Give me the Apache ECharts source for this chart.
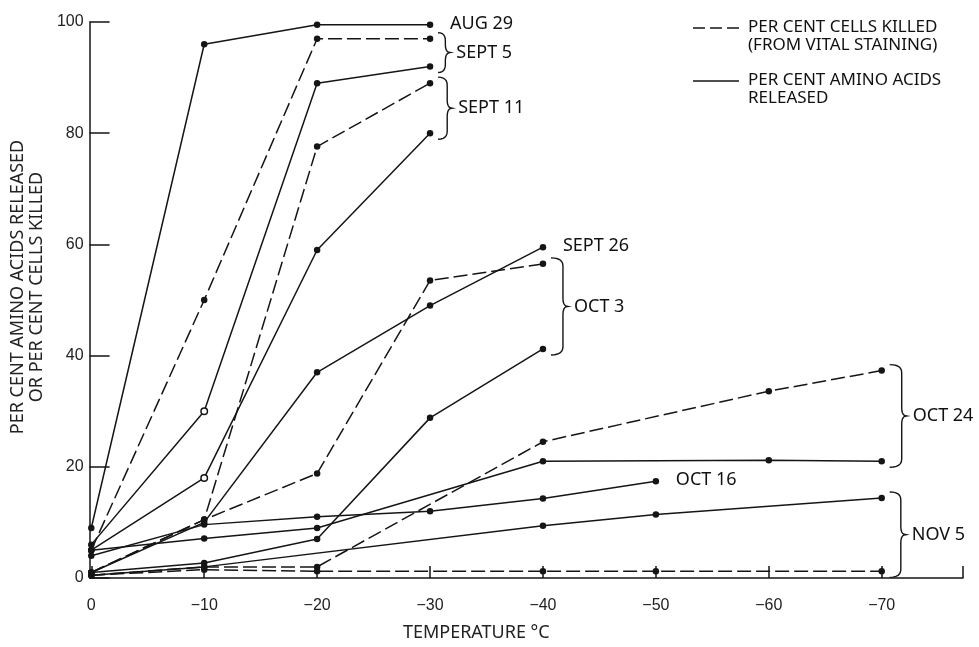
<!DOCTYPE html>
<html>
<head>
<meta charset="utf-8">
<script src="https://cdn.jsdelivr.net/npm/echarts@6/dist/echarts.min.js"></script>
<style>html,body{margin:0;padding:0;background:#fff}#main{width:979px;height:647px}</style>
</head>
<body>
<div id="main"></div>
<script>
// ---- data (temperature °C, per cent) ----
const xTickValues = [0, -10, -20, -30, -40, -50, -60, -70];
const yTickValues = [0, 20, 40, 60, 80, 100];

const aug29Amino   = [[0, 9], [-10, 96], [-20, 99.5], [-30, 99.5]];
const sept5Killed  = [[0, 5], [-10, 50], [-20, 97], [-30, 97]];
const sept5Amino   = [[0, 6], [-10, 30], [-20, 89], [-30, 92]];
const sept11Killed = [[0, 1], [-10, 10.5], [-20, 77.6], [-30, 89]];
const sept11Amino  = [[0, 5], [-10, 18], [-20, 59], [-30, 80]];
const sept26Amino  = [[0, 1], [-10, 10], [-20, 37], [-30, 49], [-40, 59.5]];
const oct3Killed   = [[0, 1], [-10, 10.5], [-20, 18.8], [-30, 53.5], [-40, 56.5]];
const oct3Amino    = [[0, 1], [-10, 2.7], [-20, 7], [-30, 28.8], [-40, 41.2]];
const oct16Amino   = [[0, 4], [-10, 9.6], [-20, 11], [-30, 12], [-40, 14.3], [-50, 17.4]];
const oct24Killed  = [[0, 0.5], [-10, 2], [-20, 2], [-40, 24.5], [-60, 33.6], [-70, 37.3]];
const oct24Amino   = [[0, 5], [-10, 7.1], [-20, 9], [-40, 21], [-60, 21.2], [-70, 21]];
const nov5Killed   = [[0, 0.5], [-10, 1.5], [-20, 1.2], [-40, 1.2], [-50, 1.2], [-70, 1.2]];
const nov5Amino    = [[0, 0.5], [-10, 2], [-40, 9.4], [-50, 11.4], [-70, 14.4]];

// annotation anchors (data coordinates)
const plainLabels = [
  { text: 'AUG 29', x: -30, y: 99.5 },
  { text: 'SEPT 26', x: -40, y: 59.5 },
  { text: 'OCT 16', x: -50, y: 17.4 }
];
const braceLabels = [
  { text: 'SEPT 5', x: -30, top: 97, bottom: 92 },
  { text: 'SEPT 11', x: -30, top: 89, bottom: 80 },
  { text: 'OCT 3', x: -40, top: 56.5, bottom: 41.2 },
  { text: 'OCT 24', x: -70, top: 37.3, bottom: 21 },
  { text: 'NOV 5', x: -70, top: 14.4, bottom: 1.2 }
];
const legendTexts = [
  'PER CENT CELLS KILLED\n(FROM VITAL STAINING)',
  'PER CENT AMINO ACIDS\nRELEASED'
];

const seriesDefs = [
  { name: 'AUG 29 amino', data: aug29Amino, dashed: false, hollow: [] },
  { name: 'SEPT 5 killed', data: sept5Killed, dashed: true, hollow: [] },
  { name: 'SEPT 5 amino', data: sept5Amino, dashed: false, hollow: [1] },
  { name: 'SEPT 11 killed', data: sept11Killed, dashed: true, hollow: [] },
  { name: 'SEPT 11 amino', data: sept11Amino, dashed: false, hollow: [1] },
  { name: 'SEPT 26 amino', data: sept26Amino, dashed: false, hollow: [] },
  { name: 'OCT 3 killed', data: oct3Killed, dashed: true, hollow: [] },
  { name: 'OCT 3 amino', data: oct3Amino, dashed: false, hollow: [] },
  { name: 'OCT 16 amino', data: oct16Amino, dashed: false, hollow: [] },
  { name: 'OCT 24 killed', data: oct24Killed, dashed: true, hollow: [] },
  { name: 'OCT 24 amino', data: oct24Amino, dashed: false, hollow: [] },
  { name: 'NOV 5 killed', data: nov5Killed, dashed: true, hollow: [] },
  { name: 'NOV 5 amino', data: nov5Amino, dashed: false, hollow: [] }
];

const INK = '#151515';
const FONT = 'Noto Sans';
const DASH = [14, 5];

const series = seriesDefs.map(d => ({
  name: d.name,
  type: 'line',
  data: d.data.map((p, i) => d.hollow.indexOf(i) >= 0
    ? { value: p, itemStyle: { color: '#fff', borderColor: INK, borderWidth: 1.5 } }
    : { value: p }),
  symbol: 'circle',
  symbolSize: 6.5,
  itemStyle: { color: INK },
  lineStyle: { color: INK, width: 1.5, type: d.dashed ? DASH : 'solid' },
  silent: true,
  z: 3
}));

const chart = echarts.init(document.getElementById('main'));
chart.setOption({
  animation: false,
  backgroundColor: '#fff',
  grid: { left: 88, right: 16, top: 22, bottom: 62 },
  xAxis: {
    type: 'value', inverse: true, min: -77.2, max: 0.15,
    axisLine: { lineStyle: { color: INK, width: 1.5 } },
    axisTick: { show: true, inside: true, length: 12, customValues: xTickValues.concat([-77.2]), lineStyle: { color: INK, width: 1.5 } },
    axisLabel: {
      customValues: xTickValues, fontSize: 16, fontFamily: 'Liberation Sans', color: '#222', margin: 20,
      formatter: v => v === 0 ? '0' : '\u2212' + Math.abs(v)
    },
    splitLine: { show: false },
    name: 'TEMPERATURE \u00B0C', nameLocation: 'middle', nameGap: 46,
    nameTextStyle: { fontSize: 18, fontFamily: FONT, color: '#222', padding: [0, 100, 0, 0] }
  },
  yAxis: {
    type: 'value', min: 0, max: 100, interval: 20,
    axisLine: { show: true, onZero: false, lineStyle: { color: INK, width: 1.5 } },
    axisTick: { show: true, inside: true, length: 20, lineStyle: { color: INK, width: 1.5 } },
    axisLabel: { fontSize: 16, fontFamily: 'Liberation Sans', color: '#222', margin: 6 },
    splitLine: { show: false },
    name: 'PER CENT AMINO ACIDS RELEASED\nOR PER CENT CELLS KILLED',
    nameLocation: 'middle', nameGap: 32, nameRotate: 90,
    nameTextStyle: { fontSize: 18, fontFamily: FONT, color: '#222', lineHeight: 19, padding: [0, 0, 0, 26] }
  },
  series: series
});

// ---- annotations positioned from data coordinates ----
function px(x, y) { return chart.convertToPixel({ gridIndex: 0 }, [x, y]); }
function quad(p0, c, p1, n) {
  const pts = [];
  for (let i = 0; i <= n; i++) {
    const t = i / n, u = 1 - t;
    pts.push([u * u * p0[0] + 2 * u * t * c[0] + t * t * p1[0], u * u * p0[1] + 2 * u * t * c[1] + t * t * p1[1]]);
  }
  return pts;
}
function bracePoints(x0, y1, y2, w) {
  const ym = (y1 + y2) / 2, r = Math.min(8, (y2 - y1) / 4), xm = x0 + w;
  let pts = [];
  pts = pts.concat(quad([x0, y1], [xm, y1], [xm, y1 + r], 6));
  pts = pts.concat(quad([xm, ym - r], [xm, ym], [xm + 5, ym], 5));
  pts = pts.concat(quad([xm + 5, ym], [xm, ym], [xm, ym + r], 5).slice(1));
  pts = pts.concat(quad([xm, y2 - r], [xm, y2], [x0, y2], 6));
  return pts;
}
const graphics = [];
plainLabels.forEach(l => {
  const p = px(l.x, l.y);
  graphics.push({ type: 'text', x: p[0] + 20, y: p[1] - 1, silent: true,
    style: { text: l.text, font: `18px "${FONT}"`, fill: '#111', align: 'left', verticalAlign: 'middle' } });
});
braceLabels.forEach(b => {
  const t = px(b.x, b.top), bt = px(b.x, b.bottom);
  const x0 = t[0] + 8, y1 = t[1] - 6, y2 = bt[1] + 6;
  const w = Math.min(12, 4 + (y2 - y1) / 12);
  graphics.push({ type: 'polyline', silent: true, shape: { points: bracePoints(x0, y1, y2, w) },
    style: { fill: null, stroke: INK, lineWidth: 1.4 } });
  graphics.push({ type: 'text', x: x0 + w + 11, y: (y1 + y2) / 2, silent: true,
    style: { text: b.text, font: `18px "${FONT}"`, fill: '#111', align: 'left', verticalAlign: 'middle' } });
});
// key
const keyX = 693, keyTextX = 748;
[[true, 28], [false, 81]].forEach((k, i) => {
  graphics.push({ type: 'line', silent: true, shape: { x1: keyX, y1: k[1], x2: keyX + 46, y2: k[1] },
    style: { stroke: INK, lineWidth: 1.4, lineDash: k[0] ? [12, 5] : null } });
  graphics.push({ type: 'text', x: keyTextX, y: k[1] - 10, silent: true,
    style: { text: legendTexts[i], font: `17px "${FONT}"`, fill: '#111', align: 'left', verticalAlign: 'top', lineHeight: 18 } });
});
chart.setOption({ graphic: graphics });
</script>
</body>
</html>
